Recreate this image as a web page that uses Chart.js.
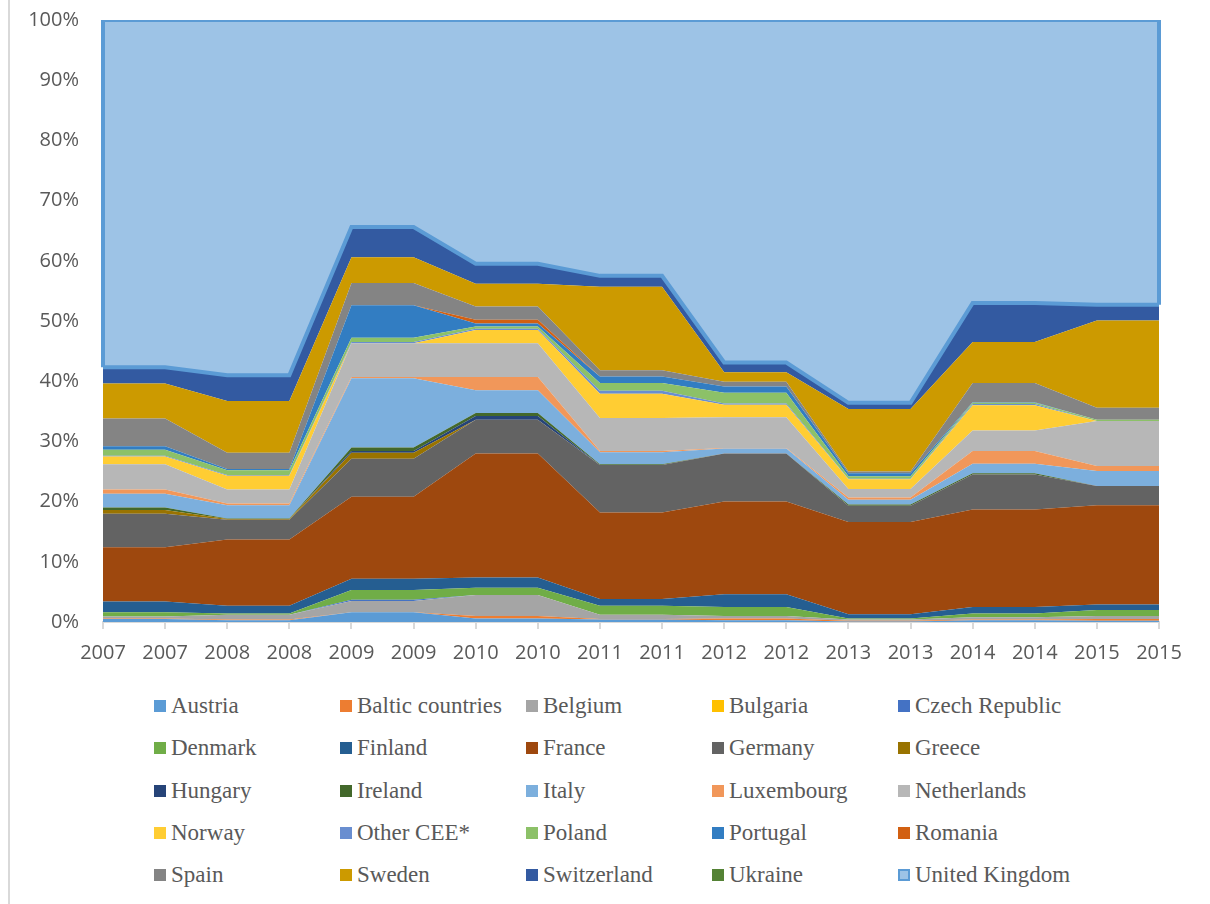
<!DOCTYPE html>
<html>
<head>
<meta charset="utf-8">
<script src="https://cdn.jsdelivr.net/npm/chart.js@4"></script>
<style>
  html, body { margin: 0; padding: 0; background: #fff; }
  #wrap { position: relative; width: 1210px; height: 904px; overflow: hidden; }
  #frame { position: absolute; left: 8px; top: 0; width: 0; height: 904px; border-left: 2px solid #d9d9d9; }
  #chartBox { position: absolute; left: 0; top: 0; width: 1210px; height: 680px; }
  #legend {
    position: absolute; left: 154px; top: 685px;
    display: grid; grid-template-columns: repeat(5, 186px); grid-auto-rows: 42.3px;
    font-family: "Liberation Serif", "Times New Roman", serif; font-size: 23px; color: #595959;
  }
  .item { display: flex; align-items: center; white-space: nowrap; }
  .box { width: 12px; height: 12px; margin-right: 5px; box-sizing: border-box; flex: none; }
</style>
</head>
<body>
<div id="wrap">
  <div id="frame"></div>
  <div id="chartBox"><canvas id="chart"></canvas></div>
  <div id="legend"></div>
</div>
<script>
// categories (each year appears twice in the source chart)
const labels = ["2007","2007","2008","2008","2009","2009","2010","2010","2011","2011",
                "2012","2012","2013","2013","2014","2014","2015","2015"];
const yTicks = [0, 10, 20, 30, 40, 50, 60, 70, 80, 90, 100];

// share of total, %
const austria     = [0.5,0.5,0.3,0.3,1.6,1.6,0.6,0.6,0.4,0.4,0.3,0.3,0.1,0.1,0.3,0.3,0.2,0.2];
const baltic      = [0.1,0.1,0.1,0.1,0,0,0.4,0.4,0.1,0.1,0.3,0.3,0.1,0.1,0.1,0.1,0.3,0.3];
const belgium     = [0.3,0.3,0.8,0.8,1.9,1.9,3.5,3.5,0.7,0.7,0.4,0.4,0.2,0.2,0.4,0.4,0.5,0.5];
const bulgaria    = [0,0,0,0,0,0,0,0,0,0,0,0,0,0,0,0,0,0];
const czech       = [0,0,0,0,0.2,0.2,0,0,0,0,0,0,0,0,0,0,0,0];
const denmark     = [0.7,0.7,0.2,0.2,1.6,1.6,1.2,1.2,1.5,1.5,1.5,1.5,0.2,0.2,0.6,0.6,1.0,1.0];
const finland     = [1.8,1.8,1.3,1.3,1.9,1.9,1.7,1.7,1.1,1.1,2.1,2.1,0.7,0.7,1.1,1.1,0.9,0.9];
const france      = [9.0,9.0,11.0,11.0,13.6,13.6,20.6,20.6,14.4,14.4,15.4,15.4,15.3,15.3,16.2,16.2,16.5,16.5];
const germany     = [5.6,5.6,3.3,3.3,6.3,6.3,5.6,5.6,7.9,7.9,8.0,8.0,2.7,2.7,5.8,5.8,3.2,3.2];
const greece      = [0.6,0.6,0.1,0.1,1.0,1.0,0,0,0,0,0,0,0,0,0,0,0,0];
const hungary     = [0,0,0,0,0.3,0.3,0.6,0.6,0,0,0,0,0,0,0,0,0,0];
const ireland     = [0.4,0.4,0.1,0.1,0.6,0.6,0.5,0.5,0.1,0.1,0,0,0.2,0.2,0.2,0.2,0,0];
const italy       = [2.3,2.3,2.2,2.2,11.5,11.5,3.8,3.8,2.0,2.0,0.8,0.8,0.8,0.8,1.6,1.6,2.5,2.5];
const luxembourg  = [0.7,0.7,0.3,0.3,0.2,0.2,2.2,2.2,0.2,0.2,0.1,0.1,0.4,0.4,2.1,2.1,0.8,0.8];
const netherlands = [4.2,4.2,2.3,2.3,5.6,5.6,5.6,5.6,5.5,5.5,5.1,5.1,1.4,1.4,3.4,3.4,7.5,7.5];
const norway      = [1.3,1.3,2.3,2.3,0,0,2.2,2.2,4.0,4.0,2.1,2.1,1.6,1.6,4.2,4.2,0,0];
const otherCee    = [0.1,0.1,0.1,0.1,0.2,0.2,0.2,0.2,0.5,0.5,0.2,0.2,0.1,0.1,0.2,0.2,0,0];
const poland      = [1.0,1.0,0.8,0.8,0.7,0.7,0.4,0.4,1.3,1.3,1.8,1.8,0.4,0.4,0.2,0.2,0.2,0.2];
const portugal    = [0.6,0.6,0.2,0.2,5.4,5.4,0.5,0.5,1.1,1.1,1.0,1.0,0.5,0.5,0.1,0.1,0,0];
const romania     = [0,0,0,0,0,0,0.6,0.6,0,0,0,0,0,0,0,0,0,0];
const spain       = [4.6,4.6,2.7,2.7,3.7,3.7,2.2,2.2,1.0,1.0,0.8,0.8,0.3,0.3,3.2,3.2,2.0,2.0];
const sweden      = [5.8,5.8,8.6,8.6,4.3,4.3,3.8,3.8,13.9,13.9,1.6,1.6,10.4,10.4,6.8,6.8,14.5,14.5];
const switzerland = [2.7,2.7,4.3,4.3,5.0,5.0,3.3,3.3,1.8,1.8,1.6,1.6,1.0,1.0,6.5,6.5,2.6,2.6];
const ukraine     = [0,0,0,0,0,0,0,0,0,0,0,0,0,0,0,0,0,0];
const uk          = [57.7,57.7,59.0,59.0,34.4,34.4,40.5,40.5,42.5,42.5,56.9,56.9,63.6,63.6,47.0,47.0,47.3,47.3];

const seriesNames = ["Austria","Baltic countries","Belgium","Bulgaria","Czech Republic",
  "Denmark","Finland","France","Germany","Greece","Hungary","Ireland","Italy","Luxembourg",
  "Netherlands","Norway","Other CEE*","Poland","Portugal","Romania","Spain","Sweden",
  "Switzerland","Ukraine","United Kingdom"];
const seriesData = [austria, baltic, belgium, bulgaria, czech, denmark, finland, france,
  germany, greece, hungary, ireland, italy, luxembourg, netherlands, norway, otherCee,
  poland, portugal, romania, spain, sweden, switzerland, ukraine, uk];
const seriesColors = ["#5B9BD5","#ED7D31","#A5A5A5","#FFC000","#4472C4","#70AD47","#255E91",
  "#9E480E","#636363","#997300","#264478","#43682B","#7CAFDD","#F1975A","#B7B7B7","#FFCD33",
  "#698ED0","#8CC168","#327DC2","#D26012","#848484","#CC9A00","#335AA1","#548235","#9DC3E6"];
const ukBorder = "#5B9BD5";

const last = seriesNames.length - 1;
const datasets = seriesNames.map(function (name, i) {
  // UK area is outlined; its lower edge sits on the Switzerland line
  const outlined = (i === last || i === last - 2);
  return {
    label: name,
    data: seriesData[i],
    backgroundColor: seriesColors[i],
    borderColor: outlined ? ukBorder : "rgba(0,0,0,0)",
    borderWidth: outlined ? 4 : 0,
    fill: i === 0 ? "origin" : "-1",
    pointRadius: 0,
    pointHoverRadius: 0,
    tension: 0,
  };
});

// side edges of the UK area outline
const ukEdges = {
  id: "ukEdges",
  afterDatasetsDraw(chart) {
    const top = chart.getDatasetMeta(last).data;
    const low = chart.getDatasetMeta(last - 2).data;
    const ctx = chart.ctx;
    ctx.save();
    ctx.strokeStyle = ukBorder;
    ctx.lineWidth = 4;
    [0, top.length - 1].forEach(function (k) {
      ctx.beginPath();
      ctx.moveTo(top[k].x, top[k].y);
      ctx.lineTo(low[k].x, low[k].y);
      ctx.stroke();
    });
    ctx.restore();
  },
};

const tickFont = { family: "'Open Sans', sans-serif", size: 20 };

const chart = new Chart(document.getElementById("chart").getContext("2d"), {
  type: "line",
  data: { labels: labels, datasets: datasets },
  options: {
    responsive: true,
    maintainAspectRatio: false,
    animation: false,
    layout: { padding: { top: 20, right: 51, left: 0, bottom: 0 } },
    plugins: { legend: { display: false }, tooltip: { enabled: false } },
    scales: {
      x: {
        offset: false,
        grid: { drawOnChartArea: false, drawTicks: true, tickLength: 7, color: "#d9d9d9", lineWidth: 2 },
        border: { color: "#d9d9d9", width: 2 },
        ticks: { color: "#595959", font: tickFont, padding: 12, maxRotation: 0, autoSkip: false },
        afterFit(scale) { scale.height = 58; },
      },
      y: {
        stacked: true,
        min: 0,
        max: 100,
        // hidden tick marks give the gap between labels and plot
        grid: { display: false, drawTicks: true, tickLength: 24 },
        border: { display: false },
        afterBuildTicks(scale) { scale.ticks = yTicks.map(v => ({ value: v })); },
        ticks: { color: "#595959", font: tickFont, padding: 0, callback: v => v + "%" },
        afterFit(scale) { scale.width = 103; },
      },
    },
  },
  plugins: [ukEdges],
});

// legend in a 5-column grid, as in the source
const legend = document.getElementById("legend");
chart.data.datasets.forEach(function (ds, i) {
  const item = document.createElement("div");
  item.className = "item";
  const box = document.createElement("span");
  box.className = "box";
  box.style.background = ds.backgroundColor;
  if (i === last) { box.style.border = "2px solid " + ukBorder; }
  item.appendChild(box);
  item.appendChild(document.createTextNode(ds.label));
  legend.appendChild(item);
});
</script>
</body>
</html>
